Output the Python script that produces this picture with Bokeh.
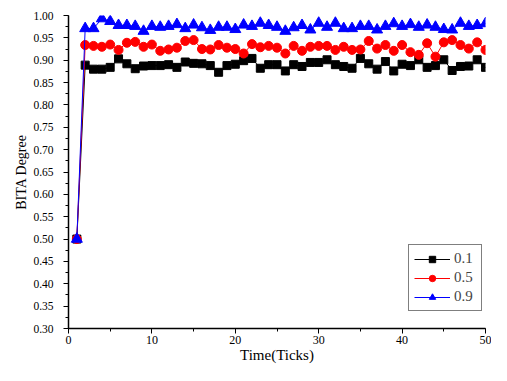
from bokeh.plotting import figure
from bokeh.models import Range1d, SingleIntervalTicker, NumeralTickFormatter, Legend, LegendItem
from bokeh.embed import file_html
from bokeh.resources import INLINE

ticks = list(range(1, 51))
s01 = [0.5, 0.889, 0.880, 0.880, 0.884, 0.903, 0.892, 0.881, 0.887, 0.888,
       0.888, 0.890, 0.884, 0.896, 0.893, 0.892, 0.888, 0.873, 0.888, 0.891,
       0.899, 0.904, 0.882, 0.890, 0.890, 0.876, 0.890, 0.886, 0.895, 0.895,
       0.901, 0.890, 0.886, 0.882, 0.904, 0.892, 0.880, 0.897, 0.876, 0.891,
       0.888, 0.901, 0.884, 0.888, 0.901, 0.877, 0.886, 0.887, 0.901, 0.884]
s05 = [0.5, 0.934, 0.932, 0.930, 0.935, 0.923, 0.939, 0.941, 0.930, 0.935,
       0.921, 0.924, 0.928, 0.943, 0.945, 0.925, 0.924, 0.934, 0.928, 0.925,
       0.915, 0.936, 0.929, 0.932, 0.928, 0.915, 0.932, 0.921, 0.930, 0.932,
       0.932, 0.923, 0.930, 0.923, 0.924, 0.943, 0.926, 0.934, 0.921, 0.934,
       0.918, 0.912, 0.938, 0.908, 0.940, 0.945, 0.934, 0.926, 0.940, 0.923]
s09 = [0.5, 0.971, 0.971, 0.993, 0.987, 0.978, 0.978, 0.976, 0.965, 0.976,
       0.974, 0.976, 0.980, 0.971, 0.979, 0.973, 0.967, 0.974, 0.974, 0.969,
       0.979, 0.976, 0.983, 0.978, 0.974, 0.965, 0.973, 0.978, 0.968, 0.983,
       0.974, 0.983, 0.971, 0.971, 0.976, 0.976, 0.968, 0.976, 0.982, 0.976,
       0.980, 0.974, 0.979, 0.974, 0.969, 0.968, 0.983, 0.976, 0.978, 0.982]
labels = ["0.1", "0.5", "0.9"]
x_title = "Time(Ticks)"
y_title = "BITA Degree"

FONT = "Liberation Serif"

p = figure(width=491, height=365, output_backend="svg", toolbar_location=None,
           x_range=Range1d(0, 50), y_range=Range1d(0.3, 1.0),
           min_border_left=68, min_border_right=6, min_border_top=15, min_border_bottom=33)
p.outline_line_color = None
p.xgrid.visible = False
p.ygrid.visible = False

p.xaxis.ticker = SingleIntervalTicker(interval=10, num_minor_ticks=2)
p.yaxis.ticker = SingleIntervalTicker(interval=0.05, num_minor_ticks=2)
p.yaxis.formatter = NumeralTickFormatter(format="0.00")
for ax in (p.xaxis, p.yaxis):
    ax.axis_line_color = "black"
    ax.axis_line_width = 1.5
    ax.major_tick_line_color = "black"
    ax.minor_tick_line_color = "black"
    ax.major_tick_in = 0
    ax.major_tick_out = 5
    ax.minor_tick_in = 0
    ax.minor_tick_out = 3
    ax.major_label_text_font = FONT
    ax.major_label_text_color = "black"
    ax.axis_label_text_font = FONT
    ax.axis_label_text_font_style = "normal"
    ax.axis_label_text_color = "black"

p.xaxis.axis_label = x_title
p.yaxis.axis_label = y_title
p.xaxis.major_label_text_font_size = "12px"
p.yaxis.major_label_text_font_size = "11.5px"
p.xaxis.axis_label_text_font_size = "15px"
p.yaxis.axis_label_text_font_size = "14px"
p.xaxis.major_label_standoff = 2
p.xaxis.axis_label_standoff = 0
p.yaxis.major_label_standoff = 10
p.yaxis.axis_label_standoff = 1

l1 = p.line(ticks, s01, line_color="black", line_width=1)
m1 = p.scatter(ticks, s01, marker="square", size=8, fill_color="black", line_color="black")
l2 = p.line(ticks, s05, line_color="red", line_width=1)
m2 = p.scatter(ticks, s05, marker="circle", size=9, fill_color="red", line_color="red")
l3 = p.line(ticks, s09, line_color="blue", line_width=1)
m3 = p.scatter(ticks, s09, marker="triangle", size=11, fill_color="blue", line_color="blue")

legend = Legend(items=[LegendItem(label=labels[0], renderers=[l1, m1]),
                       LegendItem(label=labels[1], renderers=[l2, m2]),
                       LegendItem(label=labels[2], renderers=[l3, m3])],
                location=(340, 17))
legend.label_text_font = FONT
legend.label_text_font_size = "15px"
legend.label_height = 16
legend.label_width = 22
legend.glyph_height = 16
legend.glyph_width = 36
legend.spacing = 2
legend.padding = 5
legend.margin = 0
legend.label_standoff = 4
legend.border_line_color = "black"
legend.border_line_width = 1
legend.background_fill_color = "white"
legend.background_fill_alpha = 1
p.add_layout(legend, "center")

open("out.html", "w").write(file_html(p, INLINE))
